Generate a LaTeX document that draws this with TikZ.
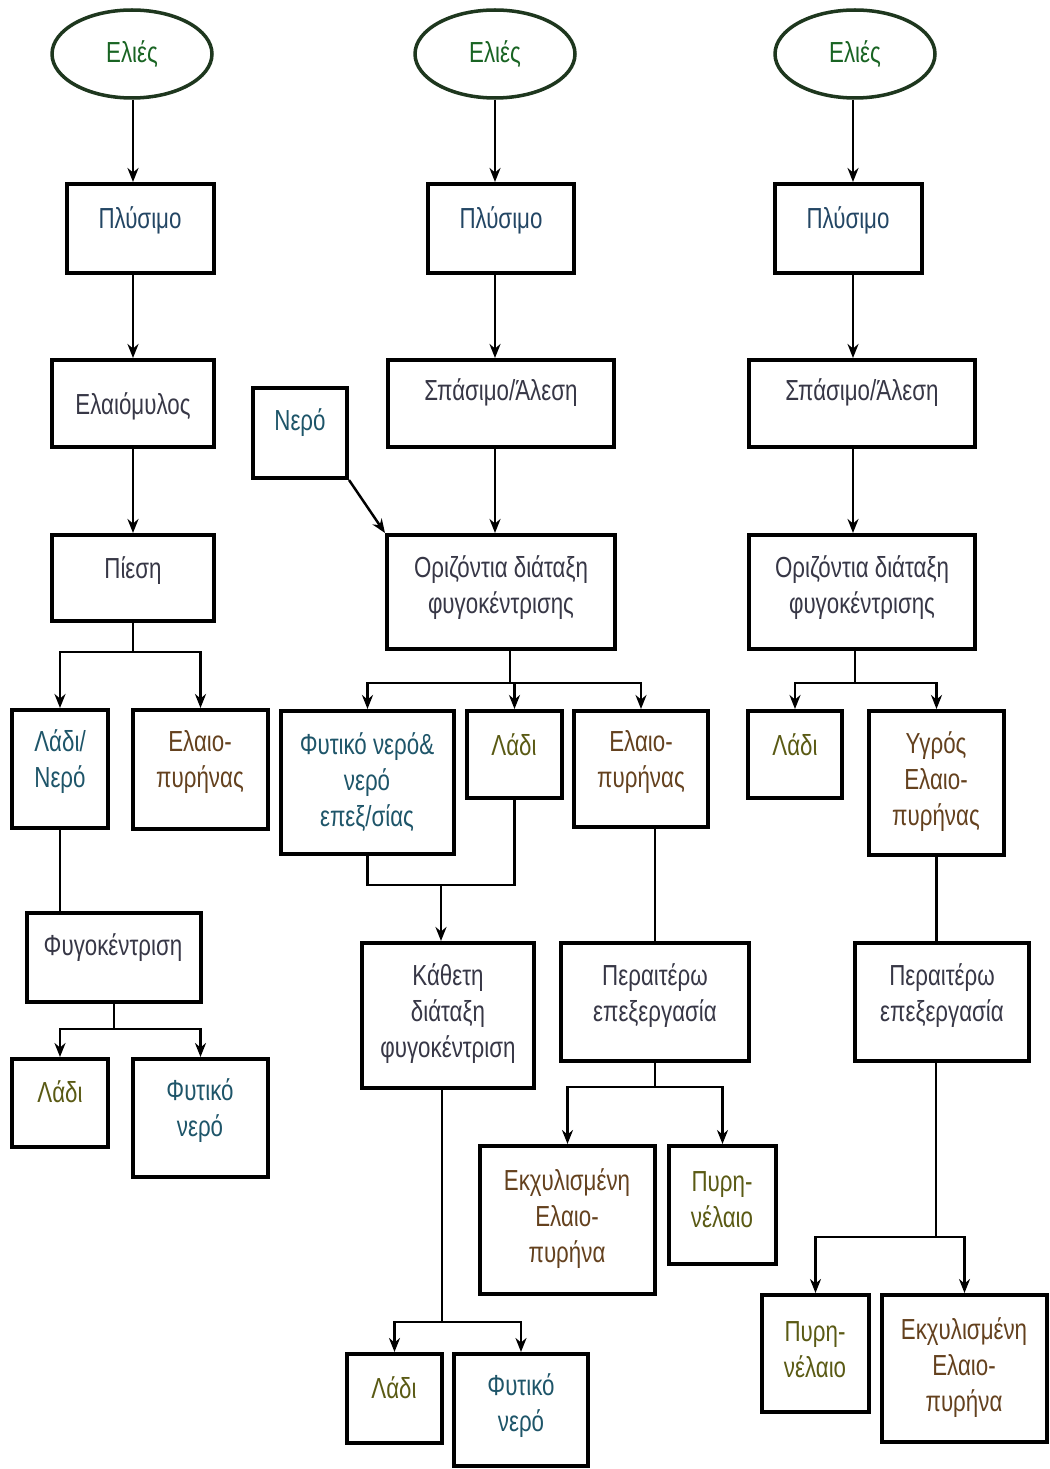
\documentclass[tikz,border=0pt]{standalone}
\usepackage{fontspec}
\setmainfont[FakeStretch=0.77]{Liberation Sans}
\usetikzlibrary{shapes.geometric,arrows.meta,fit}

\definecolor{txtgreen}{RGB}{25,100,35}
\definecolor{ellgreen}{RGB}{30,55,30}
\definecolor{txtblue}{RGB}{35,70,100}
\definecolor{txtgray}{RGB}{55,55,70}
\definecolor{txtolive}{RGB}{90,90,20}
\definecolor{txtbrown}{RGB}{100,65,30}
\definecolor{txtteal}{RGB}{30,85,105}

% box drawn from its two corners, label placed separately
\newcommand\stagebox[5]{\node[boxshape, fit={(#2,#3) (#4,#5)}] (#1) {};}

\begin{document}
\begin{tikzpicture}[x=0.02cm, y=-0.02cm,
  boxshape/.style={draw=black, line width=2.3pt, inner sep=0pt},
  lbl/.style={font=\fontsize{16.5}{20.5}\selectfont, align=center, inner sep=0pt, text=txtgray},
  fruit/.style={ellipse, draw=ellgreen, line width=2pt, minimum width=3.2cm,
    minimum height=1.76cm, inner sep=0pt, text=txtgreen,
    font=\fontsize{16.5}{20.5}\selectfont},
  link/.style={line width=1.4pt, draw=black},
  arr/.style={link, -{Stealth[length=0.28cm, width=0.22cm]}}
]
\useasboundingbox (0,0) rectangle (1049,1469);

% column axes
\coordinate (c1) at (133,0);
\coordinate (c2) at (495,0);
\coordinate (c3) at (853,0);

% ---------------- column 1: traditional press ----------------
\node[fruit] (e1) at (132,54) {Ελιές};
\stagebox{w1}{67}{184}{214}{273}
\node[lbl, text=txtblue] (w1-t) at (140,220) {Πλύσιμο};
\stagebox{m1}{52}{360}{214}{447}
\node[lbl] (m1-t) at (133,406) {Ελαιόμυλος};
\stagebox{p1}{52}{535}{214}{621}
\node[lbl] (p1-t) at (133,571) {Πίεση};
\stagebox{lw1}{12}{710}{108}{828}
\node[lbl, text=txtteal] (lw1-t) at (60,762) {Λάδι/\\Νερό};
\stagebox{ep1}{133}{710}{268}{829}
\node[lbl, text=txtbrown] (ep1-t) at (200,762) {Ελαιο-\\πυρήνας};
\stagebox{f1}{27}{913}{201}{1002}
\node[lbl] (f1-t) at (113,948) {Φυγοκέντριση};
\stagebox{l1}{12}{1059}{108}{1147}
\node[lbl, text=txtolive] (l1-t) at (60,1092) {Λάδι};
\stagebox{fn1}{133}{1059}{268}{1177}
\node[lbl, text=txtteal] (fn1-t) at (200,1111) {Φυτικό\\νερό};

\coordinate (j1) at (133,652);
\coordinate (j2) at (114,1029);
\draw[arr] (e1.south -| c1) -- (w1.north -| c1);
\draw[arr] (w1.south -| c1) -- (m1.north -| c1);
\draw[arr] (m1.south -| c1) -- (p1.north -| c1);
\draw[link] (p1.south -| c1) -- (j1);
\draw[arr] (j1) -| (lw1.north);
\draw[arr] (j1) -| (ep1.north);
\draw[link] (lw1.south) -- (lw1.south |- f1.north);
\draw[link] (f1.south) -- (j2);
\draw[arr] (j2) -| (l1.north);
\draw[arr] (j2) -| (fn1.north);

% ---------------- column 2: three-phase decanter ----------------
\node[fruit] (e2) at (495,54) {Ελιές};
\stagebox{w2}{428}{184}{574}{273}
\node[lbl, text=txtblue] (w2-t) at (501,220) {Πλύσιμο};
\stagebox{s2}{388}{360}{614}{447}
\node[lbl] (s2-t) at (501,393) {Σπάσιμο/Άλεση};
\stagebox{n2}{253}{388}{347}{478}
\node[lbl, text=txtteal] (n2-t) at (300,423) {Νερό};
\stagebox{o2}{387}{535}{615}{649}
\node[lbl] (o2-t) at (501,588) {Οριζόντια διάταξη\\φυγοκέντρισης};
\stagebox{fw2}{281}{711}{454}{854}
\node[lbl, text=txtteal] (fw2-t) at (367,782) {Φυτικό νερό\&\\νερό\\επεξ/σίας};
\stagebox{l2}{467}{711}{562}{798}
\node[lbl, text=txtolive] (l2-t) at (514,745) {Λάδι};
\stagebox{ep2}{574}{711}{708}{827}
\node[lbl, text=txtbrown] (ep2-t) at (641,762) {Ελαιο-\\πυρήνας};
\stagebox{k2}{362}{943}{534}{1088}
\node[lbl] (k2-t) at (448,1014) {Κάθετη\\διάταξη\\φυγοκέντριση};
\stagebox{pe2}{561}{943}{749}{1061}
\node[lbl] (pe2-t) at (655,996) {Περαιτέρω\\επεξεργασία};
\stagebox{ex2}{480}{1146}{655}{1294}
\node[lbl, text=txtbrown] (ex2-t) at (567,1219) {Εκχυλισμένη\\Ελαιο-\\πυρήνα};
\stagebox{py2}{669}{1146}{776}{1264}
\node[lbl, text=txtolive] (py2-t) at (722,1200) {Πυρη-\\νέλαιο};
\stagebox{l2b}{347}{1354}{442}{1443}
\node[lbl, text=txtolive] (l2b-t) at (394,1388) {Λάδι};
\stagebox{fn2}{454}{1354}{588}{1466}
\node[lbl, text=txtteal] (fn2-t) at (521,1406) {Φυτικό\\νερό};

\coordinate (j3) at (510,683);
\coordinate (m2) at (441,885);
\coordinate (j4) at (655,1087);
\coordinate (j5) at (442,1322);
\draw[arr] (e2.south -| c2) -- (w2.north -| c2);
\draw[arr] (w2.south -| c2) -- (s2.north -| c2);
\draw[arr] (s2.south -| c2) -- (o2.north -| c2);
\draw[arr] (n2.south east) -- (o2.north west);
\draw[link] (o2.south -| j3) -- (j3);
\draw[arr] (j3) -| (fw2.north);
\draw[arr] (j3) -| (l2.north);
\draw[arr] (j3) -| (ep2.north);
\draw[link] (fw2.south) |- (m2) -| (l2.south);
\draw[arr] (m2) -- (m2 |- k2.north);
\draw[link] (pe2.north |- ep2.south) -- (pe2.north);
\draw[link] (pe2.south) -- (j4);
\draw[arr] (j4) -| (ex2.north);
\draw[arr] (j4) -| (py2.north);
\draw[link] (j5 |- k2.south) -- (j5);
\draw[arr] (j5) -| (l2b.north);
\draw[arr] (j5) -| (fn2.north);

% ---------------- column 3: two-phase decanter ----------------
\node[fruit] (e3) at (855,54) {Ελιές};
\stagebox{w3}{775}{184}{922}{273}
\node[lbl, text=txtblue] (w3-t) at (848,220) {Πλύσιμο};
\stagebox{s3}{749}{360}{975}{447}
\node[lbl] (s3-t) at (862,393) {Σπάσιμο/Άλεση};
\stagebox{o3}{749}{535}{975}{649}
\node[lbl] (o3-t) at (862,588) {Οριζόντια διάταξη\\φυγοκέντρισης};
\stagebox{l3}{748}{711}{842}{798}
\node[lbl, text=txtolive] (l3-t) at (795,745) {Λάδι};
\stagebox{y3}{869}{711}{1004}{855}
\node[lbl, text=txtbrown] (y3-t) at (936,782) {Υγρός\\Ελαιο-\\πυρήνας};
\stagebox{pe3}{855}{943}{1029}{1061}
\node[lbl] (pe3-t) at (942,996) {Περαιτέρω\\επεξεργασία};
\stagebox{py3}{762}{1295}{869}{1412}
\node[lbl, text=txtolive] (py3-t) at (815,1350) {Πυρη-\\νέλαιο};
\stagebox{ex3}{882}{1295}{1047}{1442}
\node[lbl, text=txtbrown] (ex3-t) at (964,1368) {Εκχυλισμένη\\Ελαιο-\\πυρήνα};

\coordinate (j6) at (855,683);
\coordinate (j7) at (936,1237);
\draw[arr] (e3.south -| c3) -- (w3.north -| c3);
\draw[arr] (w3.south -| c3) -- (s3.north -| c3);
\draw[arr] (s3.south -| c3) -- (o3.north -| c3);
\draw[link] (o3.south -| j6) -- (j6);
\draw[arr] (j6) -| (l3.north);
\draw[arr] (j6) -| (y3.north);
\draw[link] (y3.south) -- (y3.south |- pe3.north);
\draw[link] (j7 |- pe3.south) -- (j7);
\draw[arr] (j7) -| (py3.north);
\draw[arr] (j7) -| (ex3.north);
\end{tikzpicture}
\end{document}
